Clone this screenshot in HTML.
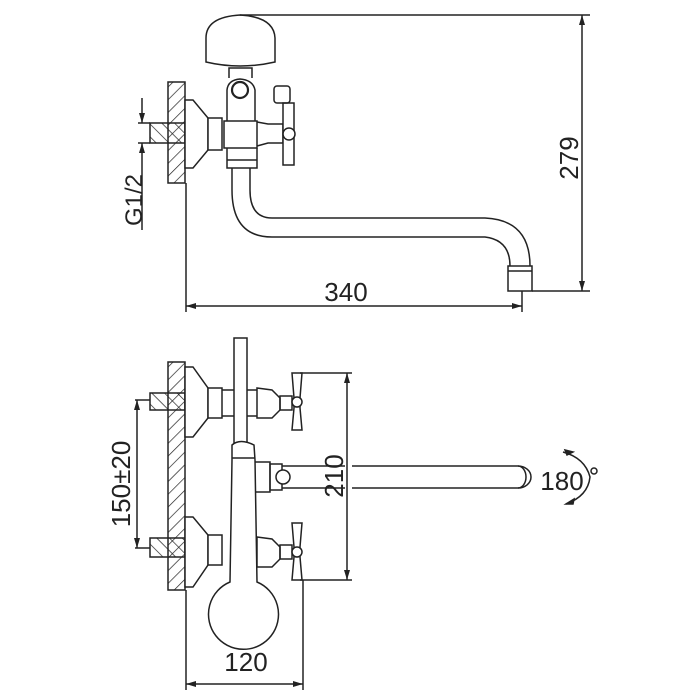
<!DOCTYPE html>
<html><head><meta charset="utf-8"><style>html,body{margin:0;padding:0;background:#fff}svg{display:block}</style></head>
<body>
<svg width="700" height="700" viewBox="0 0 700 700" xmlns="http://www.w3.org/2000/svg" fill="none" stroke="#222" stroke-width="1.5" font-family="Liberation Sans, sans-serif">
<defs>
<pattern id="h" patternUnits="userSpaceOnUse" width="9" height="9" patternTransform="rotate(45)"><line x1="0" y1="0" x2="0" y2="9" stroke="#222" stroke-width="1.4"/></pattern>
<pattern id="h2" patternUnits="userSpaceOnUse" width="9" height="9" patternTransform="rotate(-45)"><line x1="0" y1="0" x2="0" y2="9" stroke="#222" stroke-width="1.4"/></pattern>
<marker id="a" markerWidth="10" markerHeight="6" refX="10" refY="3" orient="auto-start-reverse" markerUnits="userSpaceOnUse"><path d="M0,0 L10,3 L0,6 Z" fill="#222" stroke="none"/></marker>
</defs>
<!-- TOP VIEW -->
<rect x="168" y="82" width="17" height="101" fill="url(#h)"/>
<rect x="150" y="123" width="35" height="20" fill="url(#h2)"/>
<line x1="142" y1="98" x2="142" y2="123" marker-end="url(#a)"/>
<line x1="142" y1="143" x2="142" y2="230" marker-start="url(#a)"/>
<line x1="138" y1="123" x2="150" y2="123"/><line x1="138" y1="143" x2="150" y2="143"/>
<text x="0" y="0" transform="translate(142,200) rotate(-90)" font-size="24" fill="#222" stroke="none" text-anchor="middle">G1/2</text>
<path d="M185,100 L193,100 L208,118 L208,150 L193,168 L185,168 Z" fill="#fff"/>
<rect x="208" y="118" width="14" height="32" fill="#fff"/>
<rect x="224" y="121" width="33" height="27" fill="#fff"/>
<path d="M227,121 L227,90 Q228,80 240,79 Q253,80 255,90 L255,121"/>
<circle cx="240" cy="90" r="8" stroke-width="2.2"/>
<path d="M229,78 L229,68 L252,68 L252,78"/>
<path d="M206,62 L206,38 Q206,17 240,15 Q274,17 275,38 L275,62 Q240,70 206,62 Z" fill="#fff"/>
<path d="M257,122 L268,124 L283,124 L283,143 L268,143 L257,146"/>
<rect x="283" y="103" width="11" height="62" fill="#fff"/>
<circle cx="289" cy="134" r="6" fill="#fff"/>
<rect x="274" y="86" width="16" height="17" rx="3"/>
<path d="M227,148 L227,168 L257,168 L257,148"/>
<line x1="227" y1="160" x2="257" y2="160"/>
<path d="M232,168 L232,190 Q232,237 272,237 L485,237 Q510,240 510,266"/>
<path d="M250,168 L250,190 Q250,218 272,218 L485,218 Q530,220 530,266"/>
<rect x="508" y="266" width="24" height="25" fill="#fff"/>
<line x1="508" y1="271" x2="532" y2="271"/>
<line x1="240" y1="15" x2="590" y2="15"/>
<line x1="532" y1="291" x2="590" y2="291"/>
<line x1="582" y1="15" x2="582" y2="291" marker-start="url(#a)" marker-end="url(#a)"/>
<text transform="translate(578,158) rotate(-90)" font-size="26" fill="#222" stroke="none" text-anchor="middle">279</text>
<line x1="186" y1="183" x2="186" y2="312"/>
<line x1="522" y1="291" x2="522" y2="312"/>
<line x1="186" y1="306" x2="522" y2="306" marker-start="url(#a)" marker-end="url(#a)"/>
<text x="346" y="301" font-size="26" fill="#222" stroke="none" text-anchor="middle">340</text>
<!-- BOTTOM VIEW -->
<rect x="168" y="362" width="17" height="228" fill="url(#h)"/>
<rect x="150" y="393" width="35" height="17" fill="url(#h2)"/>
<rect x="150" y="538" width="35" height="19" fill="url(#h2)"/>
<line x1="135" y1="400" x2="150" y2="400"/><line x1="135" y1="548" x2="150" y2="548"/>
<line x1="137" y1="400" x2="137" y2="548" marker-start="url(#a)" marker-end="url(#a)"/>
<text transform="translate(130,484) rotate(-90)" font-size="26" fill="#222" stroke="none" text-anchor="middle">150±20</text>
<path d="M185,367 L193,367 L208,388 L208,418 L193,437 L185,437 Z" fill="#fff"/>
<rect x="208" y="388" width="14" height="30" fill="#fff"/>
<path d="M185,517 L193,517 L208,535 L208,565 L193,587 L185,587 Z" fill="#fff"/>
<rect x="208" y="535" width="14" height="30" fill="#fff"/>
<rect x="234" y="338" width="13" height="105" fill="#fff"/>
<path d="M222,390 L234,390 M222,416 L234,416 M247,390 L257,390 M247,416 L257,416"/>
<path d="M257,388 L272,390 L280,398 L280,410 L272,418 L257,418 Z" fill="#fff"/>
<rect x="280" y="396" width="12" height="14"/>
<path d="M292,373 L302,373 L300,398 L300,408 L302,430 L292,430 L294,408 L294,398 Z" fill="#fff"/>
<circle cx="297" cy="402" r="5" fill="#fff"/>
<path d="M257,537 L272,539 L280,547 L280,559 L272,567 L257,567 Z" fill="#fff"/>
<rect x="280" y="545" width="12" height="14"/>
<path d="M292,523 L302,523 L300,547 L300,557 L302,580 L292,580 L294,557 L294,547 Z" fill="#fff"/>
<circle cx="297" cy="552" r="5" fill="#fff"/>
<path d="M232,445 Q240,438 254,445 L255,460 L257,582 A35,35 0 1 1 230,582 L232,460 Z" fill="#fff"/>
<line x1="232" y1="458" x2="255" y2="458"/>
<path d="M255,462 L270,462 L270,492 L255,492"/>
<rect x="270" y="464" width="12" height="26"/>
<circle cx="283" cy="477" r="7" fill="#fff"/>
<line x1="282" y1="466" x2="345" y2="466"/><line x1="282" y1="488" x2="345" y2="488"/>
<line x1="352" y1="466" x2="518" y2="466"/><line x1="352" y1="488" x2="518" y2="488"/>
<path d="M518,466 A8,11 0 0 1 518,488"/>
<path d="M518,466 A13,11 0 0 1 518,488"/>
<text x="562" y="490" font-size="26" fill="#222" stroke="none" text-anchor="middle">180</text>
<circle cx="594" cy="471" r="3"/>
<path d="M563,452 Q585,458 590,477 Q588,496 566,504"/>
<path d="M565,450 l8,2 l-6,3 Z M566,504 l8,-5 l-1,5 Z" fill="#222"/>
<line x1="300" y1="373" x2="352" y2="373"/><line x1="300" y1="580" x2="352" y2="580"/>
<line x1="347" y1="373" x2="347" y2="580" marker-start="url(#a)" marker-end="url(#a)"/>
<text transform="translate(343,476) rotate(-90)" font-size="26" fill="#222" stroke="none" text-anchor="middle">210</text>
<line x1="186" y1="590" x2="186" y2="690"/><line x1="303" y1="580" x2="303" y2="690"/>
<line x1="186" y1="684" x2="303" y2="684" marker-start="url(#a)" marker-end="url(#a)"/>
<text x="246" y="671" font-size="26" fill="#222" stroke="none" text-anchor="middle">120</text>
</svg>
</body></html>
